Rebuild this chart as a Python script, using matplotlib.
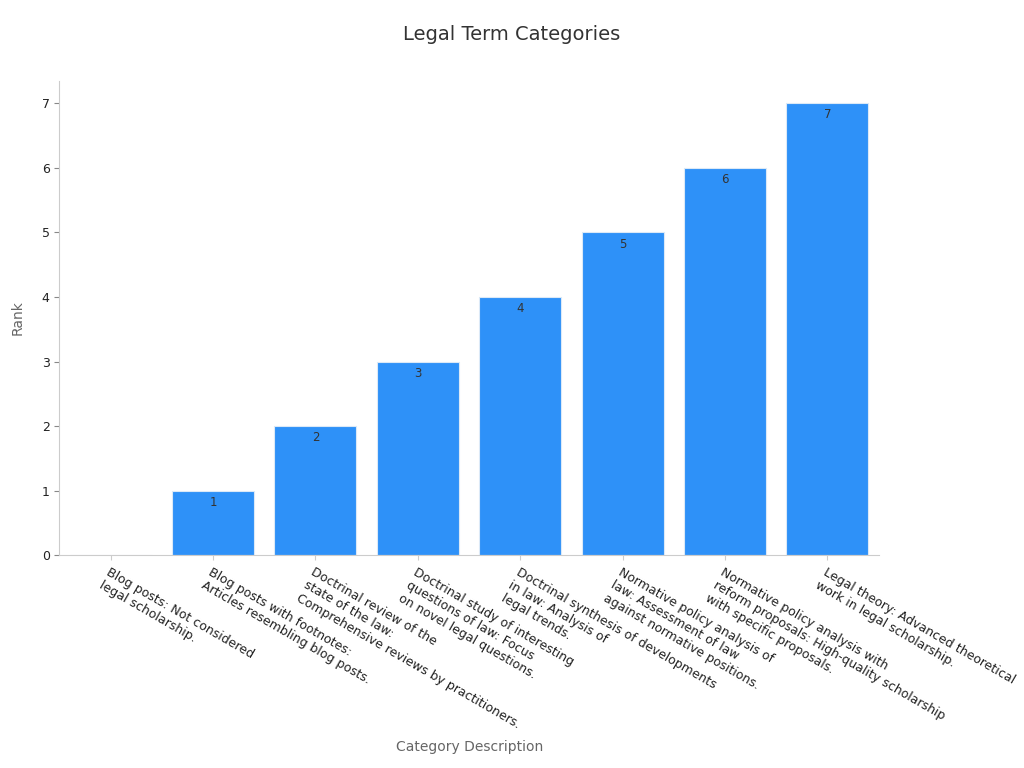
import matplotlib
matplotlib.use("Agg")
import matplotlib.pyplot as plt

categories = [
    "Blog posts: Not considered\nlegal scholarship.",
    "Blog posts with footnotes:\nArticles resembling blog posts.",
    "Doctrinal review of the\nstate of the law:\nComprehensive reviews by practitioners.",
    "Doctrinal study of interesting\nquestions of law: Focus\non novel legal questions.",
    "Doctrinal synthesis of developments\nin law: Analysis of\nlegal trends.",
    "Normative policy analysis of\nlaw: Assessment of law\nagainst normative positions.",
    "Normative policy analysis with\nreform proposals: High-quality scholarship\nwith specific proposals.",
    "Legal theory: Advanced theoretical\nwork in legal scholarship.",
]
ranks = [0, 1, 2, 3, 4, 5, 6, 7]

fig = plt.figure(figsize=(10.24, 7.68), dpi=100)
ax = fig.add_axes([0.058, 0.277, 0.8, 0.618])
x = range(len(categories))
bars = ax.bar(x, ranks, width=0.8, color="#2e91f8", edgecolor="#dbe9f7", linewidth=0.8)
for xi, v in zip(x, ranks):
    if v > 0:
        ax.text(xi, v - 0.08, str(v), ha="center", va="top", fontsize=8.5, color="#333333")
ax.set_xlim(-0.5, len(categories) - 0.5)
ax.set_ylim(0, 7.35)
ax.set_xticks(list(x))
ax.set_xticklabels(categories, rotation=-30, ha="left", va="top", rotation_mode="anchor", fontsize=9, color="#222222")
ax.tick_params(axis="x", pad=4, color="#cccccc")
ax.tick_params(axis="y", labelsize=9, color="#888888", labelcolor="#222222")
for s in ["top", "right"]:
    ax.spines[s].set_visible(False)
for s in ["left", "bottom"]:
    ax.spines[s].set_color("#cccccc")
ax.set_ylabel("Rank", fontsize=10, color="#666666", labelpad=12)
fig.text(0.459, 0.022, "Category Description", ha="center", fontsize=10, color="#666666")
fig.text(0.5, 0.955, "Legal Term Categories", ha="center", va="center", fontsize=14, color="#333333")
fig.savefig("out.png", dpi=100)
